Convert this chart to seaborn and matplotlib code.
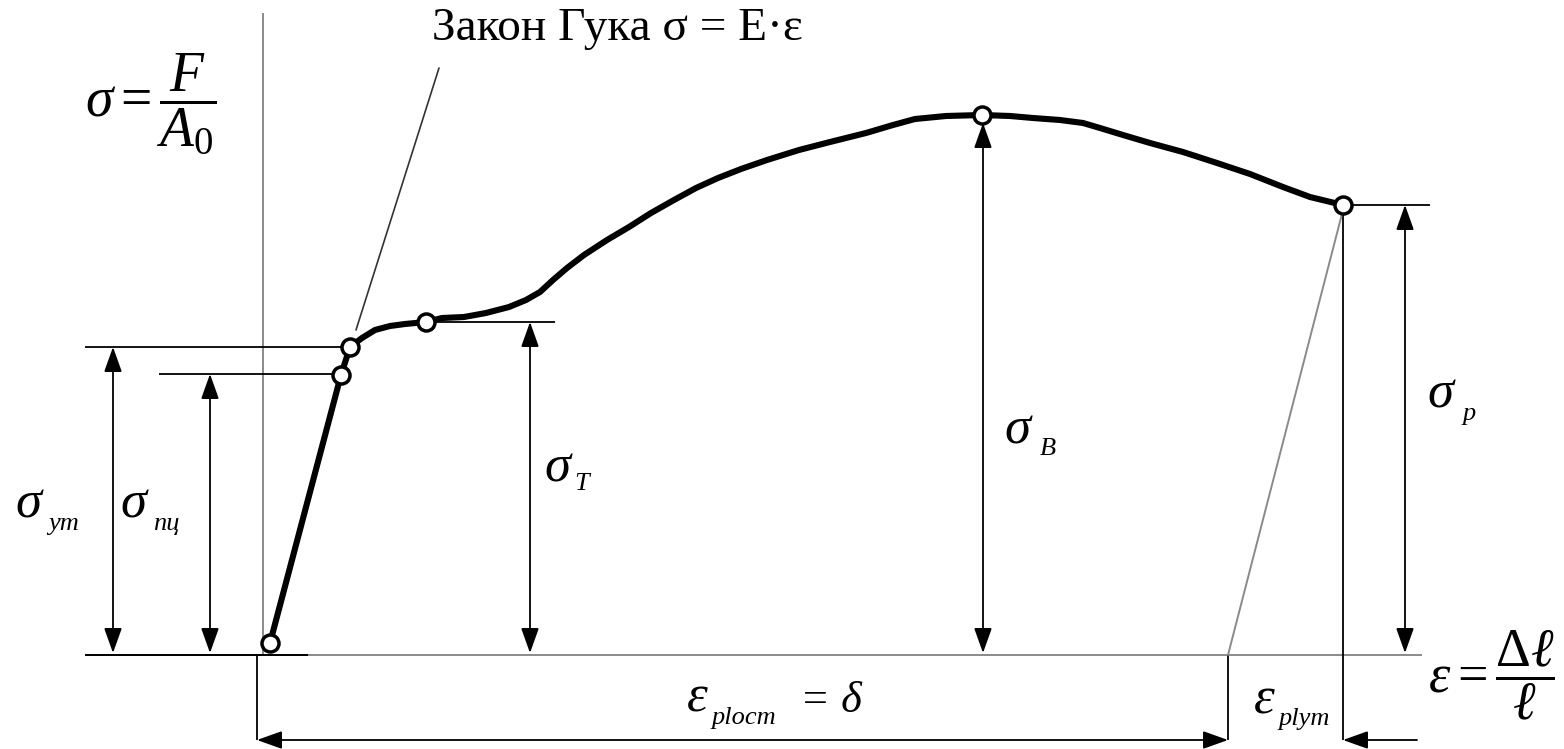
import numpy as np
import matplotlib
matplotlib.use("Agg")
import matplotlib.pyplot as plt
import seaborn as sns
import pandas as pd

# Stress-strain curve (pixel-like units, y grows downwards)
curve_x = [270, 341, 350, 362, 375, 390, 405, 426, 442, 464, 486, 509, 526, 540,
           553, 567, 584, 607, 629, 651, 674, 696, 718, 741, 767, 799, 830, 866,
           893, 915, 946, 982, 1010, 1033, 1060, 1083, 1100, 1123, 1150, 1183,
           1217, 1250, 1283, 1310, 1343]
curve_y = [643, 375, 347, 338, 330, 326, 324, 322, 318, 317, 313, 307, 300, 292,
           280, 268, 255, 240, 227, 213, 200, 188, 178, 169, 160, 150, 142, 133,
           125, 119, 116, 115, 116, 118, 120, 123, 128, 135, 143, 152,
           163, 174, 187, 197, 205]

# characteristic points: origin, prop. limit, elastic limit, yield, ultimate, rupture
point_names = ["0", "пц", "ут", "Т", "В", "р"]
point_x = [270, 341, 350, 426, 982, 1343]
point_y = [643, 375, 347, 322, 115, 205]

# levels of the stress dimensions
axis_y = 655
dim_y = 740
sigma_ut_y = 347
sigma_pc_y = 374
sigma_t_y = 322
sigma_b_y = 123
sigma_p_y = 205
eps_left_x = 257
eps_split_x = 1228
eps_right_x = 1343

df = pd.DataFrame({"x": curve_x, "y": curve_y})
pts = pd.DataFrame({"x": point_x, "y": point_y, "name": point_names})

sns.set_style("white")
plt.rcParams["font.family"] = ["Liberation Serif", "DejaVu Serif"]
plt.rcParams["text.color"] = "black"
plt.rcParams["mathtext.fontset"] = "custom"
plt.rcParams["mathtext.rm"] = "Liberation Serif"
plt.rcParams["mathtext.it"] = "Liberation Serif:italic"

fig = plt.figure(figsize=(15.64, 7.49), dpi=100)
ax = fig.add_axes([0, 0, 1, 1])
ax.set_xlim(0, 1564)
ax.set_ylim(749, 0)
ax.axis("off")

GRAY = "#8a8a8a"

# axes of the diagram
ax.vlines(263, 13, axis_y, color=GRAY, lw=1.4)
ax.hlines(axis_y, 85, 1422, color=GRAY, lw=1.4)
ax.hlines(axis_y, 85, 308, color="black", lw=1.4)

# extension lines
ax.hlines(sigma_ut_y, 85, 348, color="black", lw=1.3)
ax.hlines(sigma_pc_y, 159, 338, color="black", lw=1.3)
ax.hlines(sigma_t_y, 426, 555, color="black", lw=1.3)
ax.hlines(sigma_p_y, 1343, 1430, color="black", lw=1.3)
ax.vlines(eps_left_x, axis_y, dim_y, color="black", lw=1.3)
ax.vlines(eps_split_x, axis_y, dim_y, color="black", lw=1.3)
ax.vlines(eps_right_x, sigma_p_y, dim_y, color="black", lw=1.3)

# Hooke's law line and unloading line
ax.plot([356, 439], [330, 68], color="#333333", lw=1.2)
ax.plot([eps_split_x, eps_right_x], [axis_y, sigma_p_y + 5], color=GRAY, lw=1.4)

# main curve
sns.lineplot(data=df, x="x", y="y", sort=False, color="black", lw=4.4, ax=ax,
             estimator=None, solid_joinstyle="round", solid_capstyle="round")
sns.scatterplot(data=pts, x="x", y="y", s=150, color="white", edgecolor="black",
                linewidth=2.5, zorder=5, ax=ax, legend=False)
ax.set_xlabel("")
ax.set_ylabel("")

arrow = dict(arrowstyle="<|-|>,head_length=0.7,head_width=0.25", color="black",
             lw=1.3, mutation_scale=22, shrinkA=0, shrinkB=0)
one_arrow = dict(arrowstyle="-|>,head_length=0.7,head_width=0.25", color="black",
                 lw=1.3, mutation_scale=22, shrinkA=0, shrinkB=0)

# vertical dimensions
for xv, ytop in [(113, sigma_ut_y), (210, sigma_pc_y), (530, sigma_t_y),
                 (983, sigma_b_y), (1405, sigma_p_y)]:
    ax.annotate("", xy=(xv, ytop), xytext=(xv, axis_y - 2), arrowprops=arrow)

# horizontal dimensions
ax.annotate("", xy=(eps_left_x, dim_y), xytext=(eps_split_x, dim_y), arrowprops=arrow)
ax.annotate("", xy=(eps_right_x, dim_y), xytext=(1417, dim_y), arrowprops=one_arrow)

# labels
BIG = 38
SUB = 19


def sym(x, y, main, sub, sx, sy):
    ax.text(x, y, main, fontsize=BIG, style="italic", va="baseline", ha="left")
    ax.text(sx, sy, sub, fontsize=SUB, style="italic", va="baseline", ha="left")


sym(15, 518, "σ", "ут", 48, 530)
sym(120, 518, "σ", "пц", 153, 530)
sym(544, 481, "σ", "Т", 574, 490)
sym(1004, 444, "σ", "В", 1040, 455)
sym(1427, 408, "σ", "р", 1463, 420)
sym(687, 712, "ε", "plост", 712, 724)
ax.text(800, 712, "= δ", fontsize=BIG - 6, style="italic", va="baseline", ha="left")
sym(1254, 713, "ε", "plут", 1279, 725)

ax.text(432, 29, "Закон Гука σ = E·ε", fontsize=34, va="center", ha="left")
ax.text(85, 104, r"$\sigma = \dfrac{F}{A_0}$", fontsize=40, va="center", ha="left")
ax.text(1428, 676, r"$\varepsilon = \dfrac{\Delta\ell}{\ell}$", fontsize=39,
        va="center", ha="left")

plt.savefig("out.png", dpi=100)
plt.close()
